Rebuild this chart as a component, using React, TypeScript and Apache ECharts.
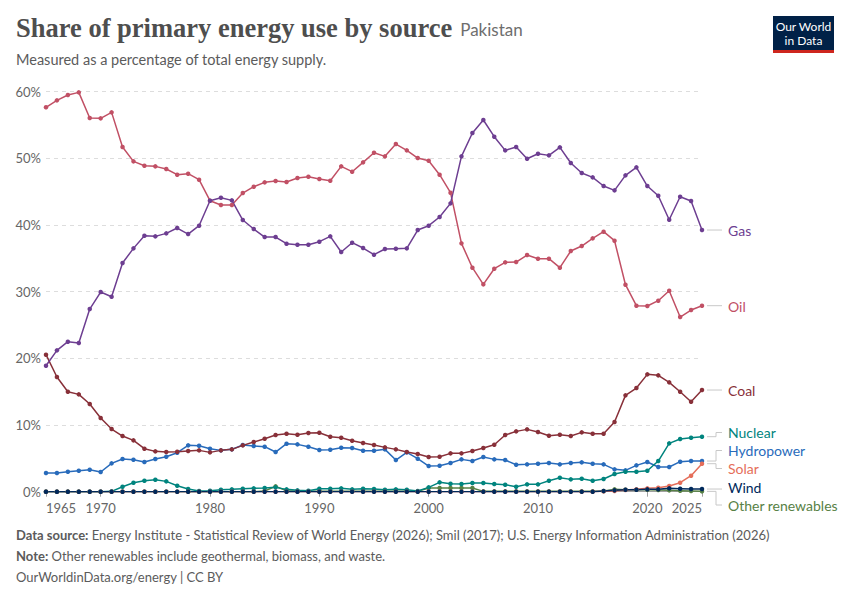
import React, { useEffect, useRef } from "react";
import * as echarts from "echarts";

const years: number[] = [];
for (let y = 1965; y <= 2025; y++) years.push(y);

const gas = [
  18.9, 21.2, 22.5, 22.3, 27.4, 29.95, 29.25, 34.3, 36.5, 38.4,
  38.3, 38.75, 39.55, 38.65, 39.9, 43.65, 44.1, 43.7, 40.75, 39.4,
  38.2, 38.2, 37.2, 37.05, 37.05, 37.5, 38.3, 35.95, 37.35, 36.55,
  35.55, 36.4, 36.45, 36.5, 39.25, 39.9, 41.2, 43.25, 50.3, 53.8,
  55.75, 53.25, 51.2, 51.7, 49.95, 50.7, 50.45, 51.65, 49.3, 47.8,
  47.15, 45.85, 45.2, 47.45, 48.65, 45.85, 44.4, 40.8, 44.25, 43.6,
  39.25,
];
const oil = [
  57.66, 58.7, 59.5, 59.9, 56.05, 56.0, 56.9, 51.7, 49.55, 48.9,
  48.8, 48.4, 47.55, 47.7, 46.8, 43.65, 43.0, 43.0, 44.8, 45.75,
  46.4, 46.6, 46.45, 47.05, 47.25, 46.9, 46.65, 48.8, 48.0, 49.4,
  50.85, 50.3, 52.15, 51.2, 50.05, 49.65, 47.55, 44.85, 37.25, 33.6,
  31.1, 33.45, 34.4, 34.45, 35.5, 34.95, 34.95, 33.6, 36.1, 36.85,
  38.0, 39.0, 37.65, 31.05, 27.9, 27.85, 28.65, 30.15, 26.2, 27.25,
  27.9,
];
const coal = [
  20.55, 17.2, 15.0, 14.6, 13.15, 11.05, 9.4, 8.35, 7.7, 6.45,
  6.05, 5.95, 6.0, 6.1, 6.2, 5.9, 6.2, 6.35, 6.95, 7.45,
  7.95, 8.5, 8.7, 8.55, 8.8, 8.85, 8.25, 8.1, 7.65, 7.3,
  7.0, 6.65, 6.35, 5.95, 5.65, 5.2, 5.25, 5.75, 5.75, 6.1,
  6.55, 7.05, 8.5, 9.05, 9.35, 8.95, 8.4, 8.55, 8.35, 8.9,
  8.7, 8.7, 10.45, 14.45, 15.55, 17.6, 17.45, 16.4, 15.0, 13.5,
  15.25,
];
const hydro = [
  2.8, 2.8, 3.0, 3.15, 3.3, 2.95, 4.25, 4.9, 4.8, 4.45,
  4.9, 5.25, 5.85, 6.95, 6.9, 6.45, 6.2, 6.35, 7.0, 6.85,
  6.75, 5.95, 7.2, 7.1, 6.75, 6.25, 6.3, 6.6, 6.55, 6.15,
  6.15, 6.35, 4.75, 5.9, 4.95, 3.85, 3.9, 4.3, 4.85, 4.6,
  5.2, 4.85, 4.75, 4.05, 4.1, 4.2, 4.3, 4.1, 4.3, 4.4,
  4.2, 4.1, 3.35, 3.2, 3.95, 4.45, 3.7, 3.7, 4.5, 4.6,
  4.6,
];
const nuclear = [
  0, 0, 0, 0, 0, 0, 0.05, 0.75, 1.35, 1.65,
  1.8, 1.55, 0.9, 0.4, 0.1, 0.15, 0.3, 0.35, 0.45, 0.5,
  0.55, 0.65, 0.35, 0.2, 0.15, 0.45, 0.45, 0.5, 0.35, 0.45,
  0.4, 0.3, 0.35, 0.3, 0.1, 0.65, 1.4, 1.2, 1.15, 1.3,
  1.3, 1.15, 1.05, 0.75, 1.1, 1.1, 1.65, 2.1, 1.85, 1.95,
  1.65, 1.9, 2.65, 3.0, 3.0, 3.15, 4.6, 7.25, 7.9, 8.1,
  8.25,
];
const solar = [
  0, 0, 0, 0, 0, 0, 0, 0, 0, 0,
  0, 0, 0, 0, 0, 0, 0, 0, 0, 0,
  0, 0, 0, 0, 0, 0, 0, 0, 0, 0,
  0, 0, 0, 0, 0, 0, 0, 0, 0, 0,
  0, 0, 0, 0, 0, 0, 0, 0, 0, 0,
  0, 0.05, 0.1, 0.25, 0.35, 0.5, 0.6, 0.85, 1.35, 2.4,
  4.2,
];
const wind = [
  0, 0, 0, 0, 0, 0, 0, 0, 0, 0,
  0, 0, 0, 0, 0, 0, 0, 0, 0, 0,
  0, 0, 0, 0, 0, 0, 0, 0, 0, 0,
  0, 0, 0, 0, 0, 0, 0, 0, 0, 0,
  0, 0, 0, 0, 0, 0, 0, 0, 0, 0,
  0, 0.1, 0.2, 0.3, 0.3, 0.35, 0.35, 0.5, 0.45, 0.4,
  0.4,
];
const otherRenewables = [
  0, 0, 0, 0, 0, 0, 0, 0, 0, 0,
  0, 0, 0, 0, 0, 0, 0, 0, 0, 0,
  0.1, 0.8, 0.15, 0.05, 0.05, 0.05, 0.05, 0.05, 0.05, 0.05,
  0.05, 0.05, 0.05, 0.05, 0.05, 0.55, 0.55, 0.55, 0.55, 0.55,
  0.05, 0.05, 0.05, 0.05, 0.05, 0.05, 0.05, 0.05, 0.05, 0.05,
  0.05, 0.1, 0.35, 0.3, 0.3, 0.3, 0.25, 0.2, 0.15, 0.1,
  0.05,
];

const xTickValues = [1965, 1970, 1980, 1990, 2000, 2010, 2020, 2025];

const seriesDefs = [
  { name: "Other renewables", data: otherRenewables, color: "#578145", labelY: 505 },
  { name: "Hydropower", data: hydro, color: "#286BBB", labelY: 450.5 },
  { name: "Nuclear", data: nuclear, color: "#00847E", labelY: 432.5 },
  { name: "Solar", data: solar, color: "#E56E5A", labelY: 468.5 },
  { name: "Coal", data: coal, color: "#883039", labelY: 390.5 },
  { name: "Oil", data: oil, color: "#C15065", labelY: 306 },
  { name: "Gas", data: gas, color: "#6D3E91", labelY: 230.5 },
  { name: "Wind", data: wind, color: "#00295B", labelY: 487 },
];

const FONT = "Lato, 'Noto Sans', sans-serif";

export default function App() {
  const ref = useRef<HTMLDivElement>(null);

  useEffect(() => {
    if (!ref.current) return;
    const chart = echarts.init(ref.current, undefined, { renderer: "svg" });

    const option: any = {
      animation: false,
      backgroundColor: "#ffffff",
      textStyle: { fontFamily: FONT },
      grid: { left: 46, right: 148, top: 91.7, bottom: 108.3, containLabel: false },
      xAxis: {
        type: "value",
        min: 1965,
        max: 2025,
        axisLine: { show: true, lineStyle: { color: "#a0a0a0", width: 1 } },
        axisTick: {
          show: true,
          length: 5,
          lineStyle: { color: "#a0a0a0" },
          customValues: xTickValues,
        },
        splitLine: { show: false },
        axisLabel: {
          customValues: xTickValues,
          formatter: (v: number) => String(v),
          color: "#666666",
          fontSize: 13,
          fontFamily: FONT,
          margin: 10,
          alignMinLabel: "left",
          alignMaxLabel: "right",
        },
      },
      yAxis: {
        type: "value",
        min: 0,
        max: 60,
        interval: 10,
        axisLine: { show: false },
        axisTick: { show: false },
        axisLabel: {
          formatter: "{value}%",
          color: "#666666",
          fontSize: 13,
          fontFamily: FONT,
          margin: 5,
        },
        splitLine: { show: true, lineStyle: { color: "#dddddd", type: [4, 4], width: 1 } },
      },
      series: seriesDefs.map((s) => ({
        name: s.name,
        type: "line",
        data: years.map((y, i) => [y, s.data[i]]),
        symbol: "circle",
        symbolSize: 4.5,
        showSymbol: true,
        color: s.color,
        lineStyle: { width: 1.5, color: s.color },
        itemStyle: { color: s.color },
        emphasis: { disabled: true },
        z: 2,
      })),
    };
    chart.setOption(option);

    const graphics: any[] = [];
    // Title block
    graphics.push({
      type: "text",
      left: 16,
      top: 14,
      style: {
        rich: {
          t: { fontFamily: "'Liberation Serif', serif", fontSize: 26.5, fontWeight: 600, fill: "#4e4e4e" },
          c: { fontFamily: FONT, fontSize: 17, fill: "#6e6e6e", padding: [4, 0, 0, 8] },
        },
        text: "{t|Share of primary energy use by source}{c|Pakistan}",
      },
    });
    graphics.push({
      type: "text",
      left: 16,
      top: 52,
      style: { text: "Measured as a percentage of total energy supply.", fontFamily: FONT, fontSize: 14.5, fill: "#5b5b5b" },
    });
    // Logo
    graphics.push({ type: "rect", shape: { x: 773, y: 16, width: 61, height: 34 }, style: { fill: "#002147" } });
    graphics.push({ type: "rect", shape: { x: 773, y: 50, width: 61, height: 3 }, style: { fill: "#ce261e" } });
    graphics.push({
      type: "text",
      x: 803.5,
      y: 26.5,
      style: { text: "Our World", fontFamily: FONT, fontSize: 12, fill: "#ffffff", align: "center", verticalAlign: "middle" },
    });
    graphics.push({
      type: "text",
      x: 803.5,
      y: 40,
      style: { text: "in Data", fontFamily: FONT, fontSize: 12, fill: "#ffffff", align: "center", verticalAlign: "middle" },
    });
    // Footer
    graphics.push({
      type: "text",
      left: 16,
      top: 528,
      style: {
        rich: {
          b: { fontFamily: FONT, fontSize: 13, fontWeight: 700, fill: "#5b5b5b" },
          n: { fontFamily: FONT, fontSize: 13, fill: "#5b5b5b" },
        },
        text: "{b|Data source:} {n|Energy Institute - Statistical Review of World Energy (2026); Smil (2017); U.S. Energy Information Administration (2026)}",
      },
    });
    graphics.push({
      type: "text",
      left: 16,
      top: 549,
      style: {
        rich: {
          b: { fontFamily: FONT, fontSize: 13, fontWeight: 700, fill: "#5b5b5b" },
          n: { fontFamily: FONT, fontSize: 13, fill: "#5b5b5b" },
        },
        text: "{b|Note:} {n|Other renewables include geothermal, biomass, and waste.}",
      },
    });
    graphics.push({
      type: "text",
      left: 16,
      top: 570,
      style: { text: "OurWorldinData.org/energy | CC BY", fontFamily: FONT, fontSize: 13, fill: "#5b5b5b" },
    });

    // End labels with connectors
    const lastIdx = years.length - 1;
    seriesDefs.forEach((s) => {
      const p = chart.convertToPixel({ gridIndex: 0 }, [years[lastIdx], s.data[lastIdx]]) as number[];
      const ex = p[0];
      const ey = p[1];
      const ly = s.labelY;
      const lx = ex + 26;
      let pts: number[][];
      if (Math.abs(ey - ly) < 3) {
        pts = [[ex + 5, ey], [lx - 6, ey]];
      } else {
        pts = [[ex + 5, ey], [ex + 14, ey], [ex + 14, ly], [lx - 6, ly]];
      }
      graphics.push({
        type: "polyline",
        shape: { points: pts },
        style: { stroke: "#c8c8c8", lineWidth: 1, fill: "none" },
        silent: true,
      });
      graphics.push({
        type: "text",
        x: lx,
        y: ly,
        style: {
          text: s.name,
          fontFamily: FONT,
          fontSize: 14,
          fill: s.color,
          verticalAlign: "middle",
          align: "left",
        },
      });
    });

    chart.setOption({ graphic: graphics });

    return () => chart.dispose();
  }, []);

  return (
    <div
      ref={ref}
      style={{ position: "absolute", left: 0, top: 0, width: 850, height: 600 }}
    />
  );
}
